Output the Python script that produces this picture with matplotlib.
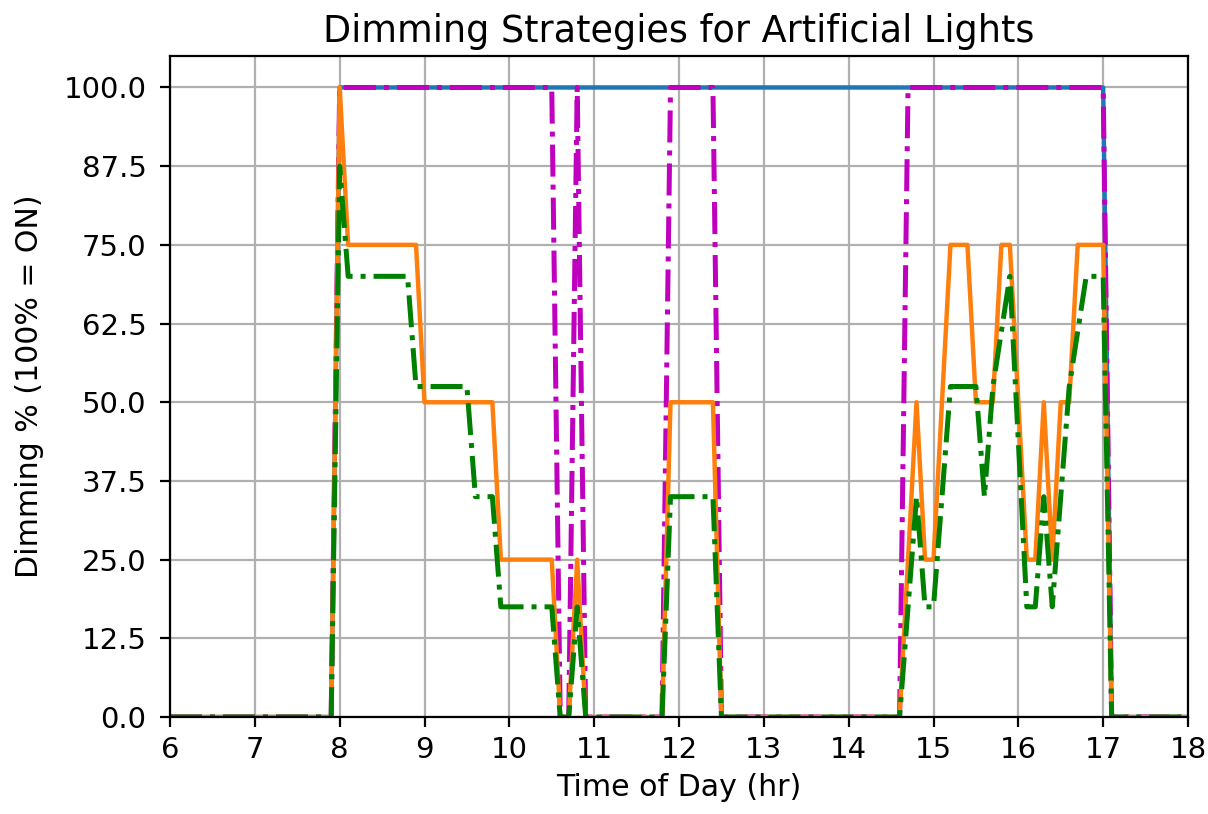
import numpy as np
import matplotlib
matplotlib.use("Agg")
import matplotlib.pyplot as plt

# Time of day, sampled every 0.1 h from 06:00 to 18:00
hours = np.round(np.arange(6.0, 18.0 + 1e-9, 0.1), 1)

# Always-on lighting during working hours
always_on = [
    0, 0, 0, 0, 0, 0, 0, 0, 0, 0,                       # 6.x
    0, 0, 0, 0, 0, 0, 0, 0, 0, 0,                       # 7.x
    100, 100, 100, 100, 100, 100, 100, 100, 100, 100,   # 8.x
    100, 100, 100, 100, 100, 100, 100, 100, 100, 100,   # 9.x
    100, 100, 100, 100, 100, 100, 100, 100, 100, 100,   # 10.x
    100, 100, 100, 100, 100, 100, 100, 100, 100, 100,   # 11.x
    100, 100, 100, 100, 100, 100, 100, 100, 100, 100,   # 12.x
    100, 100, 100, 100, 100, 100, 100, 100, 100, 100,   # 13.x
    100, 100, 100, 100, 100, 100, 100, 100, 100, 100,   # 14.x
    100, 100, 100, 100, 100, 100, 100, 100, 100, 100,   # 15.x
    100, 100, 100, 100, 100, 100, 100, 100, 100, 100,   # 16.x
    100, 0, 0, 0, 0, 0, 0, 0, 0, 0,                     # 17.x
    0,                                                  # 18.0
]

# On/off switching
on_off = [
    0, 0, 0, 0, 0, 0, 0, 0, 0, 0,
    0, 0, 0, 0, 0, 0, 0, 0, 0, 0,
    100, 100, 100, 100, 100, 100, 100, 100, 100, 100,
    100, 100, 100, 100, 100, 100, 100, 100, 100, 100,
    100, 100, 100, 100, 100, 100, 0, 0, 100, 0,
    0, 0, 0, 0, 0, 0, 0, 0, 0, 100,
    100, 100, 100, 100, 100, 0, 0, 0, 0, 0,
    0, 0, 0, 0, 0, 0, 0, 0, 0, 0,
    0, 0, 0, 0, 0, 0, 0, 100, 100, 100,
    100, 100, 100, 100, 100, 100, 100, 100, 100, 100,
    100, 100, 100, 100, 100, 100, 100, 100, 100, 100,
    100, 0, 0, 0, 0, 0, 0, 0, 0, 0,
    0,
]

# Stepped dimming (25 % steps)
stepped = [
    0, 0, 0, 0, 0, 0, 0, 0, 0, 0,
    0, 0, 0, 0, 0, 0, 0, 0, 0, 0,
    100, 75, 75, 75, 75, 75, 75, 75, 75, 75,
    50, 50, 50, 50, 50, 50, 50, 50, 50, 25,
    25, 25, 25, 25, 25, 25, 0, 0, 25, 0,
    0, 0, 0, 0, 0, 0, 0, 0, 0, 50,
    50, 50, 50, 50, 50, 0, 0, 0, 0, 0,
    0, 0, 0, 0, 0, 0, 0, 0, 0, 0,
    0, 0, 0, 0, 0, 0, 0, 25, 50, 25,
    25, 50, 75, 75, 75, 50, 50, 50, 75, 75,
    50, 25, 25, 50, 25, 50, 50, 75, 75, 75,
    75, 0, 0, 0, 0, 0, 0, 0, 0, 0,
    0,
]

# Continuous dimming
continuous = [
    0, 0, 0, 0, 0, 0, 0, 0, 0, 0,
    0, 0, 0, 0, 0, 0, 0, 0, 0, 0,
    87.5, 70, 70, 70, 70, 70, 70, 70, 70, 52.5,
    52.5, 52.5, 52.5, 52.5, 52.5, 52.5, 35, 35, 35, 17.5,
    17.5, 17.5, 17.5, 17.5, 17.5, 17.5, 0, 0, 17.5, 0,
    0, 0, 0, 0, 0, 0, 0, 0, 0, 35,
    35, 35, 35, 35, 35, 0, 0, 0, 0, 0,
    0, 0, 0, 0, 0, 0, 0, 0, 0, 0,
    0, 0, 0, 0, 0, 0, 0, 17.5, 35, 17.5,
    17.5, 35, 52.5, 52.5, 52.5, 52.5, 35, 52.5, 61.25, 70,
    43.75, 17.5, 17.5, 35, 17.5, 35, 52.5, 61.25, 70, 70,
    70, 0, 0, 0, 0, 0, 0, 0, 0, 0,
    0,
]

x_ticks = list(range(6, 19))
y_ticks = [0, 12.5, 25, 37.5, 50, 62.5, 75, 87.5, 100]

W, H, DPI = 1208, 814, 200
fig = plt.figure(figsize=(W / DPI, H / DPI), dpi=DPI)
ax = fig.add_axes([170 / W, 1 - 717 / H, (1188 - 170) / W, (717 - 56) / H])

ax.plot(hours, always_on, color="C0", lw=1.6)
ax.plot(hours, on_off, color="m", ls="-.", lw=1.8)
ax.plot(hours, stepped, color="C1", lw=1.6)
ax.plot(hours, continuous, color="g", ls="-.", lw=1.8)

ax.set_xlim(6, 18)
ax.set_ylim(0, 105)
ax.set_xticks(x_ticks)
ax.set_yticks(y_ticks)
ax.set_yticklabels([f"{v:.1f}" for v in y_ticks])
ax.grid(True)
ax.tick_params(axis="both", labelsize=10.5)
ax.tick_params(axis="y", pad=5)

ax.set_title("Dimming Strategies for Artificial Lights", fontsize=13.2, pad=5)
ax.set_xlabel("Time of Day (hr)", fontsize=10.8, labelpad=3)
ax.set_ylabel("Dimming % (100% = ON)", fontsize=10.8, labelpad=7)

fig.savefig("out.png", dpi=DPI)
